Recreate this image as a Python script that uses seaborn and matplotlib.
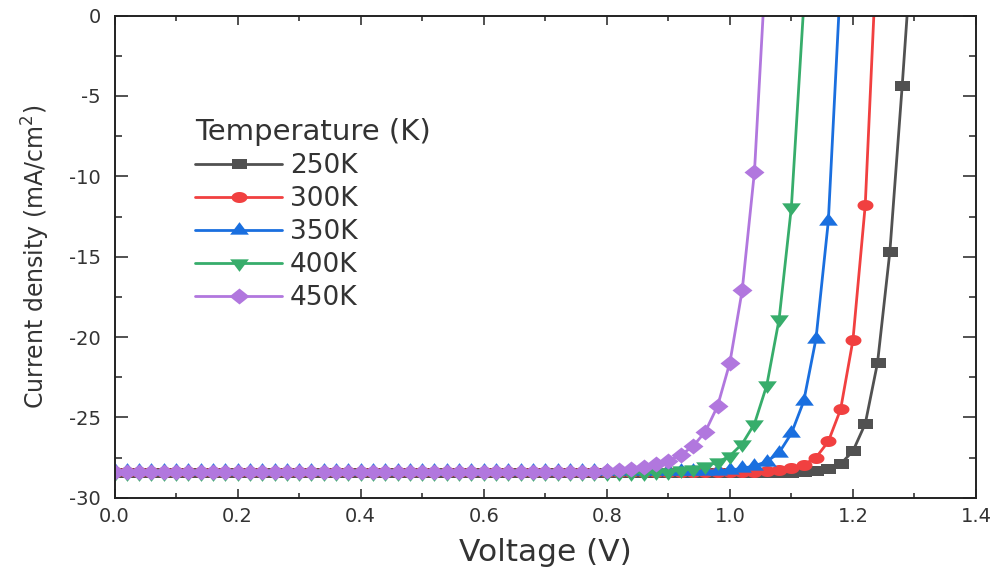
import numpy as np
import pandas as pd
import matplotlib
matplotlib.use("Agg")
import matplotlib.pyplot as plt
import seaborn as sns
from matplotlib.ticker import MultipleLocator

# ---------------- data ----------------
voltage = [0.00, 0.02, 0.04, 0.06, 0.08, 0.10, 0.12, 0.14, 0.16, 0.18,
           0.20, 0.22, 0.24, 0.26, 0.28, 0.30, 0.32, 0.34, 0.36, 0.38,
           0.40, 0.42, 0.44, 0.46, 0.48, 0.50, 0.52, 0.54, 0.56, 0.58,
           0.60, 0.62, 0.64, 0.66, 0.68, 0.70, 0.72, 0.74, 0.76, 0.78,
           0.80, 0.82, 0.84, 0.86, 0.88, 0.90, 0.92, 0.94, 0.96, 0.98,
           1.00, 1.02, 1.04, 1.06, 1.08, 1.10, 1.12, 1.14, 1.16, 1.18,
           1.20, 1.22, 1.24, 1.26, 1.28, 1.30]

j_250K = [-28.48, -28.48, -28.48, -28.48, -28.48, -28.48, -28.48, -28.48, -28.48, -28.48,
          -28.48, -28.48, -28.48, -28.48, -28.48, -28.48, -28.48, -28.48, -28.48, -28.48,
          -28.48, -28.48, -28.48, -28.48, -28.48, -28.48, -28.48, -28.48, -28.48, -28.48,
          -28.48, -28.48, -28.48, -28.48, -28.48, -28.48, -28.48, -28.48, -28.48, -28.48,
          -28.48, -28.48, -28.48, -28.48, -28.48, -28.48, -28.48, -28.48, -28.48, -28.48,
          -28.48, -28.48, -28.48, -28.48, -28.48,
          -28.46, -28.42, -28.35, -28.20, -27.90, -27.10, -25.40, -21.60, -14.70, -4.40, 6.60]

j_300K = [-28.42, -28.42, -28.42, -28.42, -28.42, -28.42, -28.42, -28.42, -28.42, -28.42,
          -28.42, -28.42, -28.42, -28.42, -28.42, -28.42, -28.42, -28.42, -28.42, -28.42,
          -28.42, -28.42, -28.42, -28.42, -28.42, -28.42, -28.42, -28.42, -28.42, -28.42,
          -28.42, -28.42, -28.42, -28.42, -28.42, -28.42, -28.42, -28.42, -28.42, -28.42,
          -28.42, -28.42, -28.42, -28.42, -28.42, -28.42, -28.42, -28.42, -28.42, -28.42,
          -28.42, -28.42,
          -28.40, -28.36, -28.28, -28.17, -27.95, -27.50, -26.50, -24.50, -20.20, -11.80, 5.10]

j_350K = [-28.35, -28.35, -28.35, -28.35, -28.35, -28.35, -28.35, -28.35, -28.35, -28.35,
          -28.35, -28.35, -28.35, -28.35, -28.35, -28.35, -28.35, -28.35, -28.35, -28.35,
          -28.35, -28.35, -28.35, -28.35, -28.35, -28.35, -28.35, -28.35, -28.35, -28.35,
          -28.35, -28.35, -28.35, -28.35, -28.35, -28.35, -28.35, -28.35, -28.35, -28.35,
          -28.35, -28.35, -28.35, -28.35, -28.35, -28.35, -28.35, -28.35, -28.35,
          -28.32, -28.28, -28.18, -28.02, -27.75, -27.20, -26.00, -24.00, -20.10, -12.80, 2.30]

j_400K = [-28.45, -28.45, -28.45, -28.45, -28.45, -28.45, -28.45, -28.45, -28.45, -28.45,
          -28.45, -28.45, -28.45, -28.45, -28.45, -28.45, -28.45, -28.45, -28.45, -28.45,
          -28.45, -28.45, -28.45, -28.45, -28.45, -28.45, -28.45, -28.45, -28.45, -28.45,
          -28.45, -28.45, -28.45, -28.45, -28.45, -28.45, -28.45, -28.45, -28.45, -28.45,
          -28.45, -28.45, -28.45, -28.45,
          -28.42, -28.37, -28.30, -28.20, -28.03, -27.80, -27.40, -26.65, -25.40, -23.00,
          -18.90, -11.90, 0.60]

j_450K = [-28.40, -28.40, -28.40, -28.40, -28.40, -28.40, -28.40, -28.40, -28.40, -28.40,
          -28.40, -28.40, -28.40, -28.40, -28.40, -28.40, -28.40, -28.40, -28.40, -28.40,
          -28.40, -28.40, -28.40, -28.40, -28.40, -28.40, -28.40, -28.40, -28.40, -28.40,
          -28.40, -28.40, -28.40, -28.40, -28.40, -28.40, -28.40, -28.40, -28.40, -28.40,
          -28.33, -28.27, -28.20, -28.08, -27.92, -27.70, -27.35, -26.80, -25.90, -24.30,
          -21.60, -17.10, -9.70, 4.20]

series_labels = ["250K", "300K", "350K", "400K", "450K"]
series_values = [j_250K, j_300K, j_350K, j_400K, j_450K]
legend_title = "Temperature (K)"
x_label = "Voltage (V)"
y_label = "Current density (mA/cm$^2$)"

# ---------------- style ----------------
colors = ["#515151", "#F14040", "#1A6FDF", "#37AD6B", "#B177DE"]

t = np.linspace(0, 2 * np.pi, 40)
m_square = [(-1.5, -1), (1.5, -1), (1.5, 1), (-1.5, 1), (-1.5, -1)]
m_circle = list(zip(1.45 * np.cos(t), np.sin(t)))
m_tri_up = [(-1.5, -0.667), (1.5, -0.667), (0, 1.333), (-1.5, -0.667)]
m_tri_dn = [(-1.5, 0.667), (1.5, 0.667), (0, -1.333), (-1.5, 0.667)]
m_diamond = [(-1.25, 0), (0, 1), (1.25, 0), (0, -1), (-1.25, 0)]
markers = [m_square, m_circle, m_tri_up, m_tri_dn, m_diamond]
msizes = [10.8, 11.5, 13.5, 13.5, 14.4]

sns.set_style("ticks")
plt.rcParams["font.family"] = ["DejaVu Sans"]
plt.rcParams["axes.unicode_minus"] = False
plt.rcParams["mathtext.default"] = "regular"

fig = plt.figure(figsize=(9.95, 5.69), dpi=100)
ax = fig.add_axes([0.1151, 0.1253, 0.8658, 0.8472])

for lab, vals, col, mk, ms in zip(series_labels, series_values, colors, markers, msizes):
    sns.lineplot(x=voltage[:len(vals)], y=vals, ax=ax, color=col, marker=mk,
                 markersize=ms, markeredgewidth=0, linewidth=2.0, label=lab,
                 sort=False, estimator=None)

ax.set_xlim(0, 1.4)
ax.set_ylim(-30, 0)
ax.xaxis.set_major_locator(MultipleLocator(0.2))
ax.xaxis.set_minor_locator(MultipleLocator(0.1))
ax.yaxis.set_major_locator(MultipleLocator(5))
ax.yaxis.set_minor_locator(MultipleLocator(2.5))

text_col = "#333333"
ax.tick_params(which="both", direction="in", top=True, right=True,
               colors="#222222", labelcolor=text_col, width=1.1)
ax.tick_params(axis="x", which="major", length=6.5, pad=7, labelsize=14)
ax.tick_params(axis="x", which="minor", length=3.3)
ax.tick_params(axis="y", which="major", length=9.5, pad=10, labelsize=14)
ax.tick_params(axis="y", which="minor", length=5)
for s in ax.spines.values():
    s.set_linewidth(1.4)
    s.set_color("#222222")

ax.set_xlabel(x_label, fontsize=22.5, color=text_col)
ax.set_ylabel(y_label, fontsize=17, color=text_col)
ax.xaxis.set_label_coords(0.5, -0.083)
ax.yaxis.set_label_coords(-0.073, 0.5)

leg = ax.legend(title=legend_title, loc="upper left", bbox_to_anchor=(0.0934, 0.788),
                frameon=False, fontsize=19, title_fontsize=21, borderpad=0,
                borderaxespad=0, handlelength=3.3, handletextpad=0.3,
                labelspacing=0.27, alignment="left")
for txt in leg.get_texts():
    txt.set_color(text_col)
leg.get_title().set_color(text_col)

fig.savefig("out.png", dpi=100)
